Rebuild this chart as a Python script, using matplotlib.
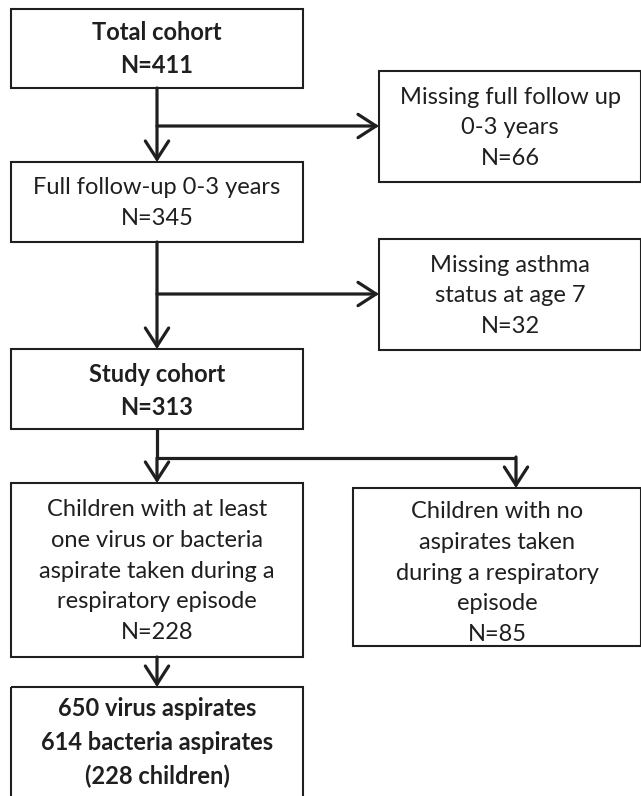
import matplotlib
matplotlib.use("Agg")
import matplotlib.pyplot as plt
from matplotlib.patches import Rectangle, FancyArrowPatch

plt.rcParams['font.family'] = ['Lato', 'DejaVu Sans']

# box texts (content) and counts
titles = [
    "Total cohort",
    "Missing full follow up\n0-3 years",
    "Full follow-up 0-3 years",
    "Missing asthma\nstatus at age 7",
    "Study cohort",
    "Children with at least\none virus or bacteria\naspirate taken during a\nrespiratory episode",
    "Children with no\naspirates taken\nduring a respiratory\nepisode",
]
counts = [411, 66, 345, 32, 313, 228, 85]
bold = [True, False, False, False, True, False, False]
final_lines = ["650 virus aspirates", "614 bacteria aspirates", "(228 children)"]

# layout in pixels: (x0, y0, x1, y1), y measured downward
boxes = [
    (11, 9, 303, 88),
    (379, 71, 641, 182),
    (11, 162, 303, 242),
    (379, 239, 641, 350),
    (11, 349, 303, 429),
    (11, 483, 303, 657),
    (353, 488, 641, 646),
]
text_y = [49, 128, 203, 296, 391, 571, 573]
final_box = (11, 687, 303, 800)

W, H = 641, 796
fig = plt.figure(figsize=(W / 100, H / 100), dpi=100)
ax = fig.add_axes([0, 0, 1, 1])
ax.set_xlim(0, W)
ax.set_ylim(H, 0)
ax.axis('off')

col = '#1f1f1f'
fs = 17
ls = 1.56

for (x0, y0, x1, y1), t, n, b, ty in zip(boxes, titles, counts, bold, text_y):
    ax.add_patch(Rectangle((x0, y0), x1 - x0, y1 - y0, fill=False,
                           ec=col, lw=1.5, clip_on=False))
    ax.text((x0 + x1) / 2, ty, f"{t}\nN={n}", ha='center', va='center',
            fontsize=fs, color=col, linespacing=ls,
            fontweight='bold' if b else 'normal')

x0, y0, x1, y1 = final_box
ax.add_patch(Rectangle((x0, y0), x1 - x0, y1 - y0, fill=False,
                       ec=col, lw=1.5, clip_on=True))
ax.text((x0 + x1) / 2, 743, "\n".join(final_lines), ha='center', va='center',
        fontsize=fs, color=col, linespacing=ls, fontweight='bold')


def arrow(p, q):
    ax.add_patch(FancyArrowPatch(p, q, arrowstyle='->,head_length=0.65,head_width=0.42',
                                 mutation_scale=20, lw=2.3, color=col,
                                 shrinkA=0, shrinkB=0, joinstyle='miter'))


def line(xs, ys):
    ax.plot(xs, ys, color=col, lw=2.3, solid_capstyle='butt')


cx = 157
arrow((cx, 88), (cx, 162))
arrow((cx, 126), (379, 126))
arrow((cx, 242), (cx, 349))
arrow((cx, 294), (379, 294))
line([cx, cx], [429, 458])
line([cx, 516], [458, 458])
arrow((cx, 458), (cx, 483))
arrow((516, 457), (516, 488))
arrow((cx, 657), (cx, 687))

fig.savefig('out.png', dpi=100)
